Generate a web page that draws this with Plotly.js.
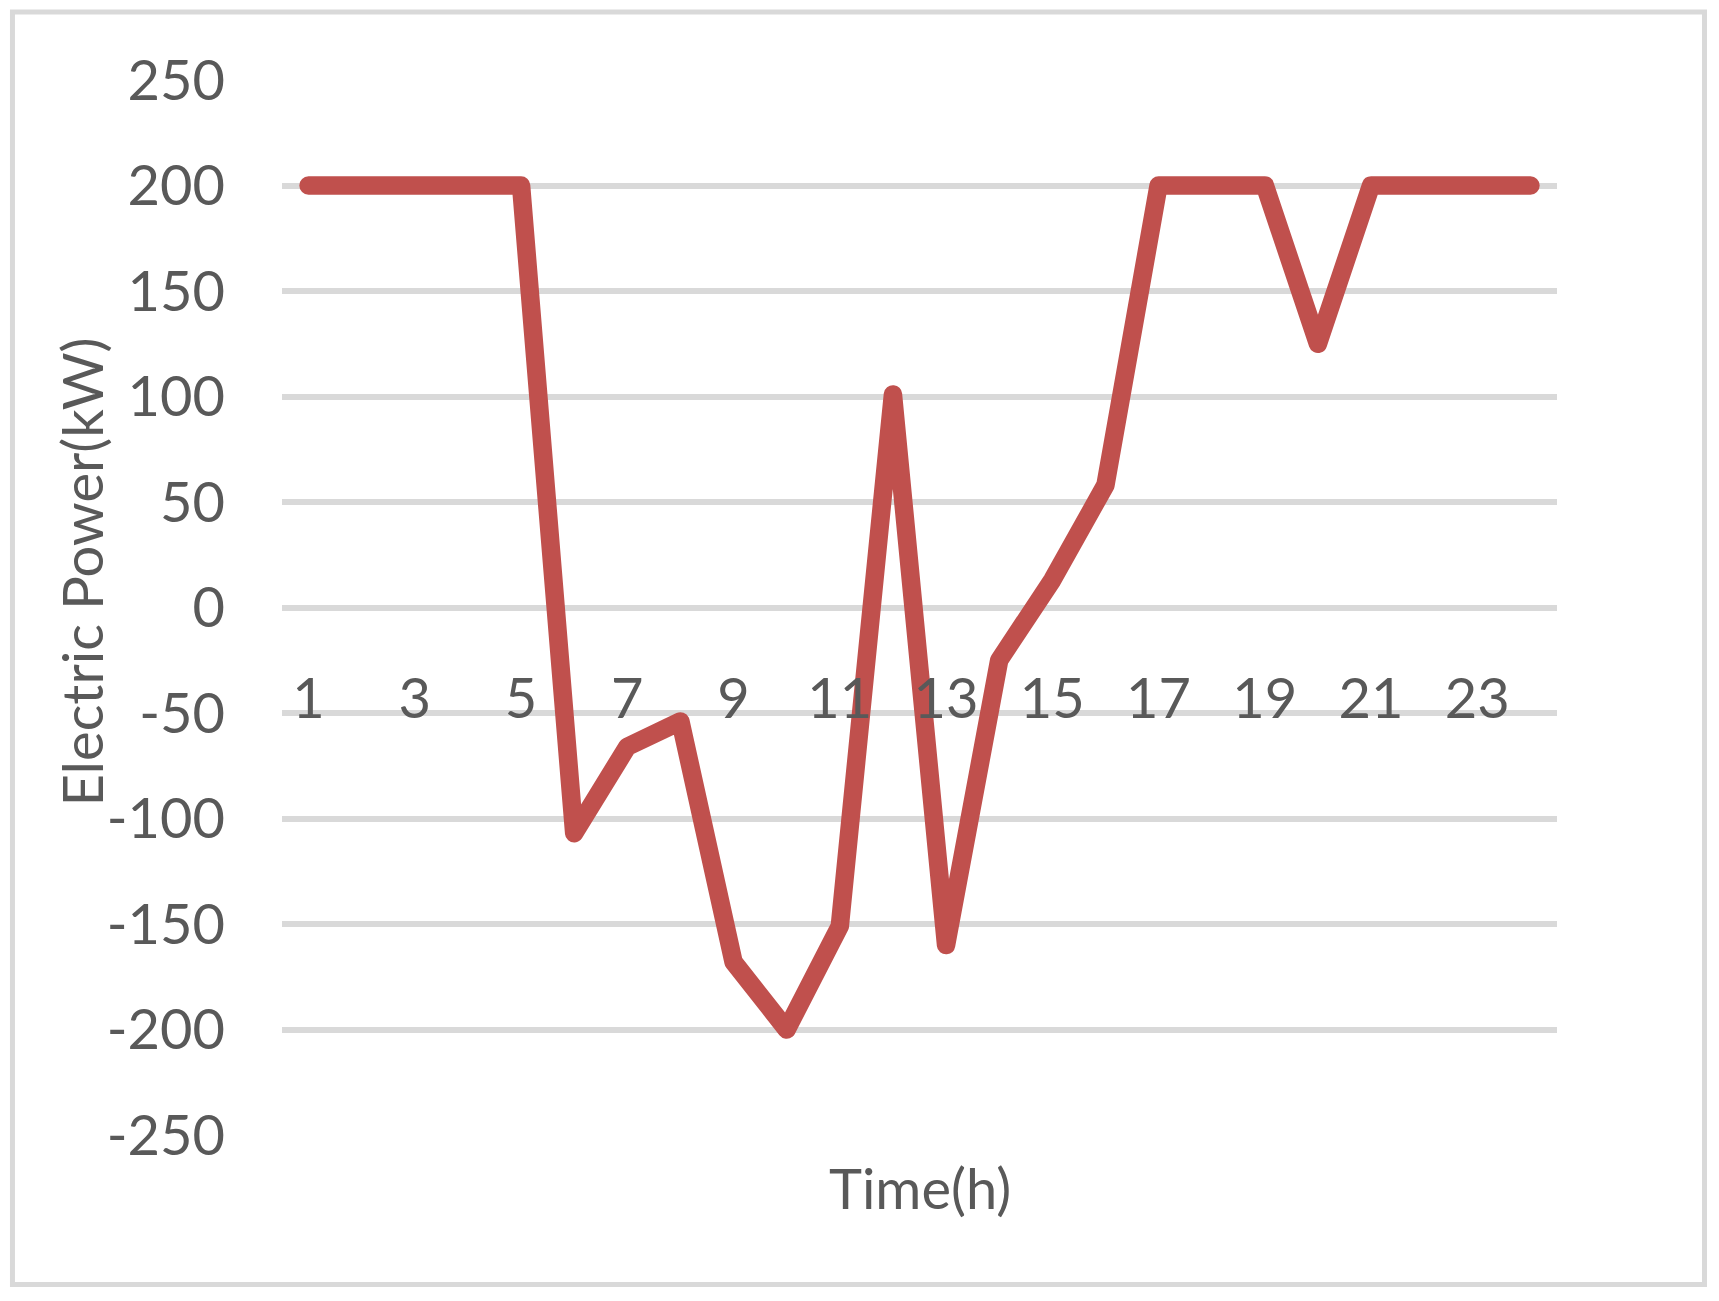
<!DOCTYPE html>
<html>
<head>
<meta charset="utf-8">
<script src="https://cdn.plot.ly/plotly-3.0.1.min.js"></script>
<style>
  html, body { margin: 0; padding: 0; background: #ffffff; }
  #chart { width: 1719px; height: 1301px; }
  #chart .scatterlayer path.js-line { stroke-linejoin: round !important; stroke-linecap: round !important; }
</style>
</head>
<body>
<div id="chart"></div>
<script>
// Data
const hours = ["1","2","3","4","5","6","7","8","9","10","11","12","13","14","15","16","17","18","19","20","21","22","23","24"];
const electricPower = [200, 200, 200, 200, 200, -107, -66, -54, -168, -200, -151, 101, -160, -25, 13, 58, 200, 200, 200, 125, 200, 200, 200, 200];
const yTickValues = [-250, -200, -150, -100, -50, 0, 50, 100, 150, 200, 250];
const xTickLabels = ["1","3","5","7","9","11","13","15","17","19","21","23"];
const xTitle = "Time(h)";
const yTitle = "Electric Power(kW)";

const FONT = "Lato, 'Open Sans', 'Liberation Sans', sans-serif";
const TEXT_COLOR = "#595959";
const GRID_COLOR = "#d9d9d9";

const trace = {
  type: "scatter",
  mode: "lines",
  x: hours,
  y: electricPower,
  line: { color: "#C0504D", width: 18.5 },
  hoverinfo: "x+y",
  showlegend: false
};

const layout = {
  width: 1719,
  height: 1301,
  paper_bgcolor: "#ffffff",
  plot_bgcolor: "#ffffff",
  margin: { l: 282, r: 162, t: 80, b: 166, pad: 0 },
  font: { family: FONT, color: TEXT_COLOR, size: 56 },
  showlegend: false,
  xaxis: {
    type: "category",
    range: [-0.5, hours.length - 0.5],
    anchor: "free",
    position: 0.5,
    tickmode: "array",
    tickvals: xTickLabels,
    ticktext: xTickLabels,
    showgrid: false,
    zeroline: false,
    showline: false,
    ticks: "",
    ticklabelstandoff: 53,
    tickfont: { family: FONT, size: 56, color: TEXT_COLOR },
    automargin: false,
    fixedrange: true
  },
  yaxis: {
    range: [-250, 250],
    tickmode: "array",
    tickvals: yTickValues,
    ticktext: yTickValues.map(String),
    showgrid: true,
    gridcolor: GRID_COLOR,
    gridwidth: 6,
    zeroline: false,
    showline: false,
    ticks: "",
    ticklabelstandoff: 56,
    tickfont: { family: FONT, size: 56, color: TEXT_COLOR },
    automargin: false,
    fixedrange: true
  },
  annotations: [
    {
      text: xTitle,
      xref: "paper", yref: "paper",
      x: 0.5, y: -0.0493,
      xanchor: "center", yanchor: "middle",
      showarrow: false,
      font: { family: FONT, size: 56, color: TEXT_COLOR }
    },
    {
      text: yTitle,
      xref: "paper", yref: "paper",
      x: -0.1575, y: 0.5336,
      xanchor: "center", yanchor: "middle",
      textangle: -90,
      showarrow: false,
      font: { family: FONT, size: 56, color: TEXT_COLOR }
    }
  ],
  shapes: [
    {
      type: "rect",
      xref: "paper", yref: "paper",
      x0: -0.2114, x1: 1.1157,
      y0: -0.1417, y1: 1.0645,
      line: { color: GRID_COLOR, width: 5 },
      fillcolor: "rgba(0,0,0,0)",
      layer: "below"
    }
  ]
};

Plotly.newPlot("chart", [trace], layout, { displayModeBar: false, staticPlot: true });
</script>
</body>
</html>
